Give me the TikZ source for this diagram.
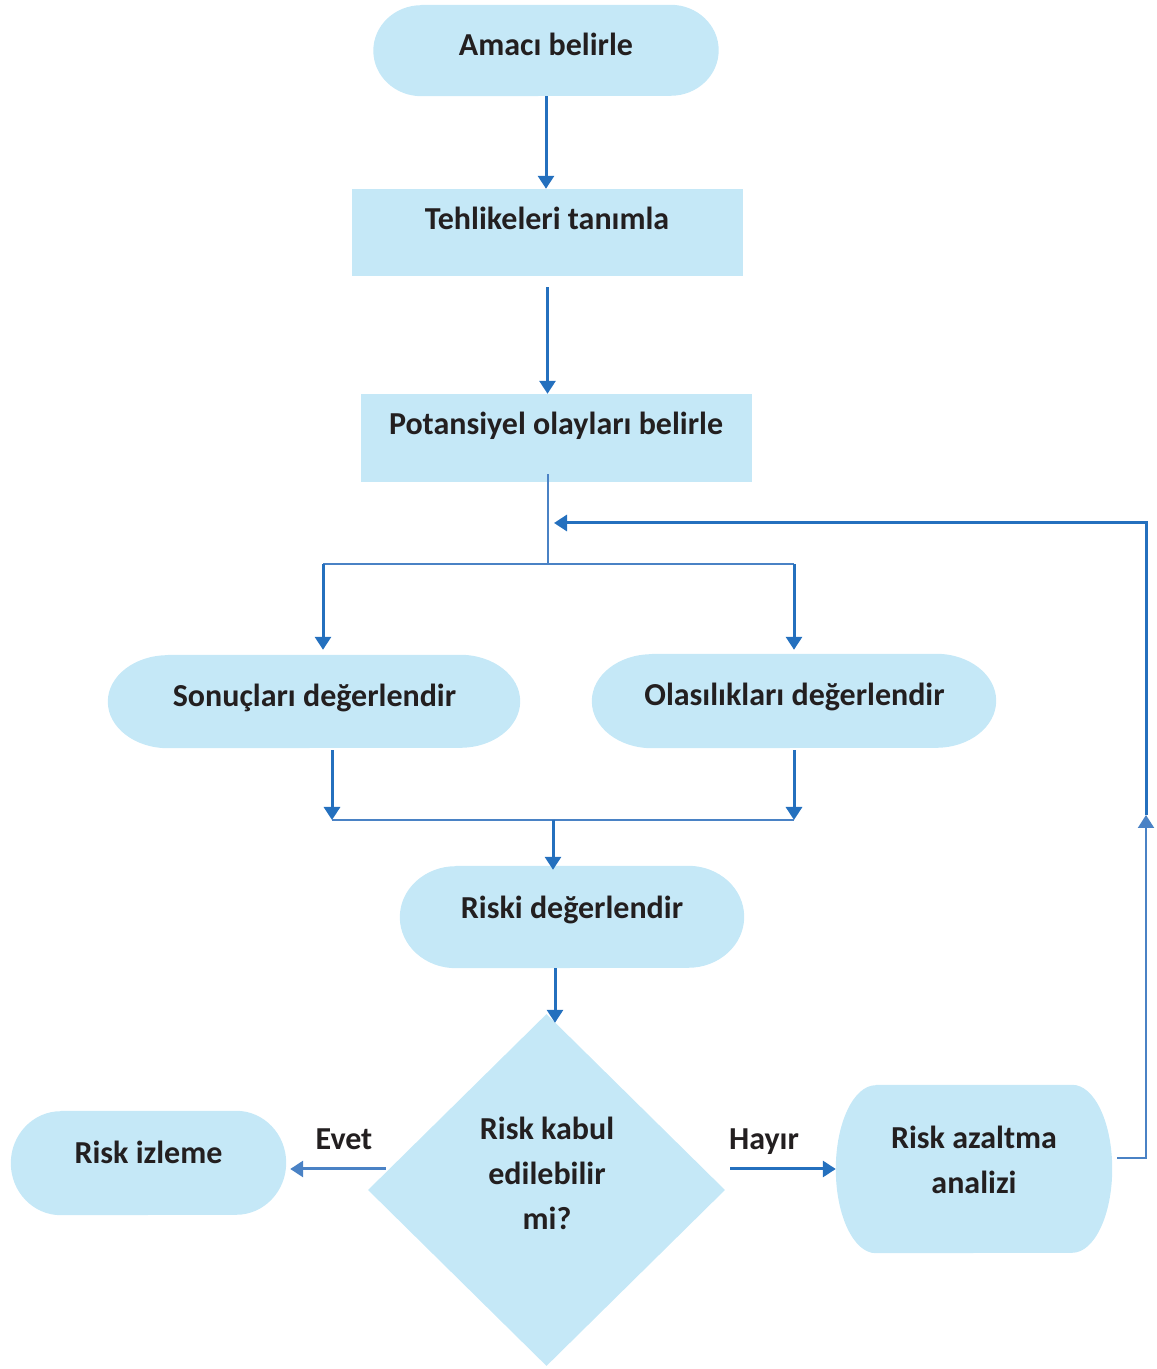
\documentclass[tikz,border=0pt]{standalone}
\usepackage{fontspec}
\setmainfont{Carlito}
\usetikzlibrary{arrows.meta, calc, shapes.geometric}
\definecolor{boxblue}{HTML}{C5E8F7}
\definecolor{linkblue}{HTML}{2470BE}
\definecolor{linklight}{HTML}{4A82C5}
\definecolor{inkgrey}{HTML}{231F20}

% box with elliptic ends: name, x, y, width, height, end radius
\newcommand{\capsule}[6]{%
  \node[box, minimum width=#4, minimum height=#5] (#1) at (#2,#3) {};
  \fill[boxblue] ($(#1.north west)+(#6,0)$) -- ($(#1.north east)+(-#6,0)$)
    arc[start angle=90, end angle=-90, x radius=#6pt, y radius=0.5pt*#5]
    -- ($(#1.south west)+(#6,0)$)
    arc[start angle=270, end angle=90, x radius=#6pt, y radius=0.5pt*#5] -- cycle;
}

\begin{document}
\begin{tikzpicture}[x=1pt, y=1pt,
  box/.style={rectangle, inner sep=0pt},
  rectbox/.style={box, fill=boxblue},
  txt/.style={font=\bfseries\fontsize{32}{45}\selectfont, text=inkgrey,
    inner sep=0pt, text height=20.6pt, text depth=0pt},
  txtml/.style={font=\bfseries\fontsize{32}{45}\selectfont, text=inkgrey,
    inner sep=0pt, align=center},
  flow/.style={draw=linkblue, line width=3pt, -{Triangle[length=13pt,width=16pt]}},
  joint/.style={draw=linklight, line width=2pt}]
  \useasboundingbox (0,0) rectangle (1157,1369);

  % boxes
  \capsule{amac}{546}{1318.5}{345}{91}{48}
  \node[rectbox, minimum width=391, minimum height=87] (tehl) at (547.5,1136.5) {};
  \node[rectbox, minimum width=391, minimum height=88] (pot) at (556.5,931) {};
  \capsule{sonuc}{314}{667.5}{412}{93}{60}
  \capsule{olas}{794}{668}{404}{94}{60}
  \capsule{riski}{572}{452}{344}{102}{56}
  \node[diamond, fill=boxblue, inner sep=0pt, minimum width=357, minimum height=352] (diam) at (546.5,179) {};
  \capsule{izleme}{148.5}{206}{275}{104}{50}
  \capsule{azalt}{974}{200}{276}{168}{40}

  % texts
  \node[txt] (amac-t) at (546,1324) {Amacı belirle};
  \node[txt] (tehl-t) at (547,1150) {Tehlikeleri tanımla};
  \node[txt] (pot-t) at (556,945) {Potansiyel olayları belirle};
  \node[txt] (sonuc-t) at (314.5,673) {Sonuçları değerlendir};
  \node[txt] (olas-t) at (794.5,674) {Olasılıkları değerlendir};
  \node[txt] (riski-t) at (572,461) {Riski değerlendir};
  \node[txtml] (diam-t) at (547,196) {Risk kabul\\edilebilir\\mi?};
  \node[txt] (izleme-t) at (148.5,216) {Risk izleme};
  \node[txtml] (azalt-t) at (974,209) {Risk azaltma\\analizi};
  \node[txt] (evet) at (344,230) {Evet};
  \node[txt] (hayir) at (764,230) {Hayır};

  \coordinate (split) at (548,805);
  \coordinate (splitL) at (323,805);
  \coordinate (splitR) at (794,805);
  \coordinate (mergeL) at (332,549);
  \coordinate (mergeM) at (553,549);
  \coordinate (mergeR) at (794,549);
  \coordinate (backB) at (1146,211);
  \coordinate (backA) at (1146,554);
  \coordinate (backT) at (1146,846);
  \coordinate (backEnd) at (554,846);

  % connectors
  \draw[flow] (amac.south) -- (amac.south |- tehl.north);
  \draw[flow] ($(tehl.south)+(0,-11)$) -- (tehl.south |- pot.north);
  \draw[joint] ($(split |- pot.south)+(0,8)$) -- (split);
  \draw[joint] (splitL) -- (splitR);
  \draw[flow] (splitL) -- ($(splitL |- sonuc.north)+(0,5)$);
  \draw[flow] (splitR) -- ($(splitR |- olas.north)+(0,4)$);
  \draw[flow] ($(mergeL |- sonuc.south)+(0,-2)$) -- (mergeL);
  \draw[flow] ($(mergeR |- olas.south)+(0,-2)$) -- (mergeR);
  \draw[joint] (mergeL) -- (mergeR);
  \draw[flow] (mergeM) -- ($(mergeM |- riski.north)+(0,-4)$);
  \draw[flow] ($(riski.south)+(-17,0)$) -- ($(diam.north)+(8.5,-9)$);
  \draw[flow, draw=linklight] ($(diam.west)+(18,21)$) -- ($(izleme.east)+(4,-6)$);
  \draw[flow] ($(diam.east)+(5,21)$) -- (azalt.west);
  \draw[flow, line width=2pt, draw=linklight] ($(azalt.east)+(5,11)$) -- (backB) -- (backA);
  \draw[flow] (backA) -- (backT) -- (backEnd);
\end{tikzpicture}
\end{document}
